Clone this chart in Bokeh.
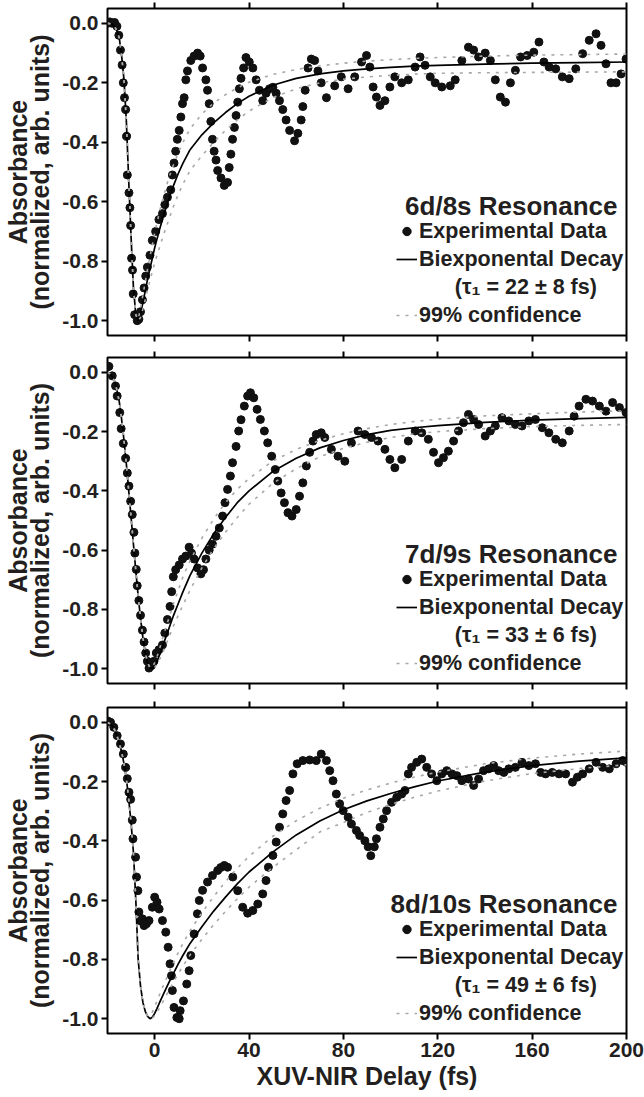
from bokeh.plotting import figure
from bokeh.layouts import column
from bokeh.models import (Range1d, LinearAxis, FixedTicker, PrintfTickFormatter,
                          Legend, LegendItem, Label)
from bokeh.embed import file_html
from bokeh.resources import INLINE

# ---------------- data ----------------
x_ticks = [0, 40, 80, 120, 160, 200]
y_ticks = [-1.0, -0.8, -0.6, -0.4, -0.2, 0.0]

titles = ["6d/8s Resonance", "7d/9s Resonance", "8d/10s Resonance"]
tau_labels = ["(\u03c4\u2081 = 22 \u00b1 8 fs)", "(\u03c4\u2081 = 33 \u00b1 6 fs)", "(\u03c4\u2081 = 49 \u00b1 6 fs)"]

# panel 1: 6d/8s experimental data
x1 = [-20, -19, -18, -17, -16, -15.2, -14.5, -13.8, -13.3, -12.8, -12.3, -11.9, -11.6, -10.9, -10.5,
      -10.2, -9.8, -9.4, -9.1, -8.5, -7.4, -6.7, -6.0, -5.2, -4.5, -3.8, -3.1, -2.0, -1.0, 0.4,
      1.8, 3.3, 4.3, 5.4, 6.8, 7.5, 8.2, 8.9, 9.6, 10.4, 11.1, 11.8, 12.5, 13.2, 13.9,
      15.3, 16.7, 18.2, 19.3, 20.3, 21.7, 22.4, 23.1, 23.8, 24.5, 25.2, 26.0, 26.7, 28.1, 29.5,
      30.9, 31.6, 32.3, 33.0, 33.8, 34.5, 35.2, 35.9, 36.6, 37.7, 38.7, 40.1, 41.6, 43.0, 44.4,
      45.8, 47.2, 48.7, 50.1, 51.5, 52.9, 54.3, 55.7, 57.2, 59.3, 60.7, 62.1, 62.8, 63.8, 65.0,
      66.4, 67.8, 69.2, 70.6, 72.8, 76.3, 79.1, 82.0, 84.8, 87.7, 89.8, 91.2, 92.6, 94.0, 95.5,
      97.6, 99.7, 101.8, 104.7, 107.5, 110.4, 112.5, 114.6, 116.8, 118.9, 121.7, 125.3, 127.4, 130.2, 133.0,
      135.2, 137.3, 140.1, 142.3, 144.4, 146.5, 148.7, 150.8, 152.9, 155.1, 157.9, 160.7, 162.9, 165.0, 167.2,
      170.0, 172.8, 175.7, 178.5, 181.4, 184.2, 187.1, 189.2, 191.3, 193.4, 195.6, 197.7, 199.8]
y1 = [0.0, 0.005, 0.0, 0.003, -0.01, -0.04, -0.09, -0.14, -0.2, -0.25, -0.29, -0.38, -0.51, -0.57, -0.62,
      -0.68, -0.79, -0.83, -0.91, -0.98, -1.0, -0.995, -0.97, -0.93, -0.89, -0.85, -0.82, -0.78, -0.73, -0.70,
      -0.66, -0.64, -0.61, -0.585, -0.56, -0.51, -0.47, -0.43, -0.39, -0.36, -0.315, -0.27, -0.25, -0.19, -0.16,
      -0.125, -0.11, -0.1, -0.11, -0.15, -0.19, -0.225, -0.27, -0.33, -0.39, -0.43, -0.46, -0.495, -0.52, -0.545,
      -0.535, -0.485, -0.44, -0.39, -0.35, -0.31, -0.265, -0.22, -0.185, -0.15, -0.115, -0.13, -0.15, -0.19, -0.225,
      -0.26, -0.235, -0.22, -0.215, -0.235, -0.26, -0.29, -0.325, -0.36, -0.395, -0.37, -0.325, -0.28, -0.225, -0.15,
      -0.12, -0.125, -0.16, -0.2, -0.25, -0.21, -0.18, -0.22, -0.18, -0.13, -0.108, -0.147, -0.214, -0.248, -0.276,
      -0.26, -0.214, -0.18, -0.2, -0.19, -0.147, -0.113, -0.141, -0.18, -0.2, -0.214, -0.21, -0.19, -0.125, -0.08,
      -0.09, -0.113, -0.1, -0.125, -0.19, -0.248, -0.265, -0.2, -0.158, -0.113, -0.108, -0.097, -0.063, -0.13, -0.147,
      -0.153, -0.18, -0.186, -0.153, -0.102, -0.057, -0.035, -0.074, -0.136, -0.2, -0.2, -0.17, -0.12]

# panel 2: 7d/9s experimental data
x2 = [-20, -19.4, -18, -16.6, -15.9, -14.8, -14.2, -13.3, -12.3, -11.6, -10.9, -10.2, -9.5, -8.8, -8.4,
      -7.8, -7.4, -6.7, -6.0, -5.2, -4.5, -3.8, -3.1, -2.4, -1.4, -0.3, 0.7, 1.8, 3.3, 4.3,
      5.4, 6.5, 7.2, 7.9, 8.9, 10.4, 11.8, 13.2, 14.6, 15.6, 16.7, 18.2, 19.6, 20.7, 21.7,
      23.1, 24.5, 26.0, 27.4, 28.8, 29.8, 30.9, 32.1, 33.0, 34.5, 35.6, 36.6, 38.0, 39.4, 40.6,
      42.0, 43.4, 44.8, 46.5, 47.9, 49.6, 51.1, 52.2, 53.6, 55.0, 56.5, 58.2, 60.0, 61.4, 62.8,
      64.3, 65.7, 67.1, 68.5, 70.6, 72.1, 74.9, 77.7, 80.6, 83.4, 86.2, 89.1, 91.9, 94.7, 97.6,
      99.7, 101.8, 104.7, 107.5, 110.4, 113.2, 116.0, 118.2, 120.3, 122.4, 124.5, 126.7, 128.8, 130.9, 133.0,
      135.2, 137.3, 140.1, 142.3, 144.4, 147.2, 150.1, 152.9, 155.7, 158.6, 161.4, 164.3, 167.1, 170.0, 172.8,
      175.7, 177.8, 179.9, 182.8, 185.6, 188.5, 191.3, 194.1, 197.0, 199.8]
y2 = [0.02, 0.02, -0.012, -0.046, -0.08, -0.136, -0.19, -0.24, -0.29, -0.34, -0.384, -0.435, -0.48, -0.54, -0.61,
      -0.665, -0.72, -0.77, -0.82, -0.87, -0.91, -0.947, -0.975, -0.998, -0.99, -0.975, -0.947, -0.936, -0.92, -0.88,
      -0.834, -0.79, -0.74, -0.69, -0.666, -0.65, -0.63, -0.62, -0.59, -0.61, -0.63, -0.66, -0.68, -0.666, -0.63,
      -0.60, -0.58, -0.553, -0.525, -0.485, -0.44, -0.395, -0.35, -0.305, -0.25, -0.198, -0.16, -0.114, -0.08, -0.069,
      -0.086, -0.125, -0.159, -0.198, -0.238, -0.283, -0.328, -0.367, -0.407, -0.44, -0.474, -0.485, -0.463, -0.418, -0.373,
      -0.316, -0.27, -0.232, -0.21, -0.204, -0.22, -0.26, -0.283, -0.3, -0.238, -0.198, -0.21, -0.22, -0.232, -0.26,
      -0.294, -0.322, -0.294, -0.232, -0.198, -0.204, -0.226, -0.27, -0.305, -0.288, -0.266, -0.232, -0.198, -0.17, -0.142,
      -0.159, -0.176, -0.215, -0.198, -0.181, -0.153, -0.164, -0.176, -0.181, -0.164, -0.159, -0.187, -0.204, -0.226, -0.238,
      -0.198, -0.148, -0.114, -0.091, -0.097, -0.114, -0.131, -0.102, -0.119, -0.136]

# panel 3: 8d/10s experimental data
x3 = [-20, -18.7, -17.3, -15.9, -14.5, -13.3, -12.3, -11.6, -10.9, -10.2, -9.5, -9.2, -8.1, -7.7, -7.1,
      -6.7, -5.9, -5.2, -4.5, -3.5, -2.4, -1.0, 0.0, 1.0, 1.9, 3.3, 4.7, 5.7, 6.5, 7.1,
      7.5, 8.2, 9.4, 10.4, 10.8, 12.2, 13.6, 14.6, 15.3, 16.7, 18.1, 18.9, 20.3, 22.4, 24.5,
      26.7, 28.0, 29.5, 30.9, 33.1, 35.2, 37.3, 39.4, 41.6, 43.7, 45.8, 47.2, 48.2, 50.1, 51.5,
      52.9, 54.3, 55.7, 57.2, 58.6, 60.4, 62.8, 65.7, 68.5, 70.6, 72.8, 74.2, 75.6, 77.0, 78.4,
      79.9, 82.0, 83.4, 85.5, 86.9, 89.1, 90.5, 91.6, 93.1, 94.0, 95.5, 96.9, 98.3, 100.4, 102.6,
      104.7, 106.1, 107.5, 108.9, 111.1, 113.2, 115.3, 117.4, 119.6, 121.7, 123.8, 126.0, 128.1, 130.2, 133.0,
      135.2, 137.3, 139.4, 141.6, 143.7, 145.8, 148.0, 150.1, 152.9, 155.7, 158.6, 161.4, 163.6, 165.7, 168.5,
      171.4, 174.2, 177.1, 179.2, 181.4, 184.2, 187.1, 189.9, 192.7, 195.6, 198.4, 200.0]
y3 = [0.005, 0.0, -0.017, -0.045, -0.073, -0.107, -0.152, -0.19, -0.236, -0.26, -0.33, -0.393, -0.455, -0.522, -0.568,
      -0.64, -0.67, -0.663, -0.686, -0.68, -0.669, -0.624, -0.59, -0.607, -0.63, -0.669, -0.708, -0.759, -0.815, -0.855,
      -0.905, -0.962, -0.996, -1.0, -0.973, -0.94, -0.883, -0.838, -0.787, -0.714, -0.646, -0.601, -0.567, -0.539, -0.517,
      -0.5, -0.49, -0.483, -0.489, -0.522, -0.568, -0.624, -0.644, -0.635, -0.613, -0.579, -0.534, -0.489, -0.449, -0.404,
      -0.354, -0.309, -0.264, -0.23, -0.174, -0.14, -0.129, -0.127, -0.129, -0.107, -0.129, -0.163, -0.197, -0.242, -0.275,
      -0.298, -0.32, -0.343, -0.365, -0.382, -0.4, -0.42, -0.45, -0.42, -0.393, -0.354, -0.326, -0.298, -0.27, -0.253,
      -0.242, -0.23, -0.174, -0.152, -0.135, -0.124, -0.152, -0.174, -0.197, -0.174, -0.163, -0.174, -0.18, -0.197, -0.191,
      -0.213, -0.191, -0.163, -0.157, -0.146, -0.163, -0.169, -0.157, -0.152, -0.135, -0.146, -0.14, -0.169, -0.174, -0.169,
      -0.174, -0.174, -0.202, -0.185, -0.174, -0.157, -0.135, -0.152, -0.157, -0.14, -0.129, -0.135]

# biexponential fits and 99% confidence bounds
fit_x = [-20, -19, -18, -17, -16, -15, -14, -13, -12, -11, -10, -9, -8, -7, -6, -5, -4, -3, -2, -1, 0, 1, 2,
         4, 6, 8, 10, 12, 15, 20, 25, 30, 35, 40, 50, 60, 70, 80, 90, 100, 110, 120, 140, 160, 180, 200]

fit1 = [0.0, -0.001, -0.003, -0.01, -0.025, -0.05, -0.11, -0.19, -0.33, -0.53, -0.72, -0.89, -0.98, -1.0, -0.975,
        -0.94, -0.9, -0.86, -0.825, -0.79, -0.755, -0.725, -0.695,
        -0.64, -0.59, -0.545, -0.505, -0.47, -0.425, -0.375, -0.335, -0.3, -0.27, -0.245,
        -0.208, -0.185, -0.17, -0.16, -0.153, -0.148, -0.144, -0.141, -0.137, -0.134, -0.132, -0.13]
up1 = [0.0, -0.001, -0.003, -0.01, -0.025, -0.05, -0.11, -0.19, -0.33, -0.53, -0.72, -0.89, -0.98, -0.995, -0.96,
       -0.915, -0.87, -0.825, -0.785, -0.745, -0.705, -0.67, -0.635,
       -0.575, -0.52, -0.475, -0.435, -0.4, -0.355, -0.305, -0.268, -0.24, -0.217, -0.198,
       -0.172, -0.155, -0.143, -0.134, -0.127, -0.122, -0.118, -0.115, -0.11, -0.107, -0.105, -0.103]
lo1 = [0.0, -0.001, -0.003, -0.01, -0.025, -0.05, -0.11, -0.19, -0.33, -0.53, -0.72, -0.89, -0.98, -1.0, -0.99,
       -0.96, -0.93, -0.895, -0.865, -0.835, -0.805, -0.78, -0.755,
       -0.705, -0.66, -0.615, -0.575, -0.54, -0.495, -0.445, -0.4, -0.36, -0.325, -0.295,
       -0.25, -0.22, -0.2, -0.188, -0.18, -0.175, -0.171, -0.168, -0.166, -0.165, -0.164, -0.163]

fit2 = [0.0, -0.005, -0.015, -0.03, -0.06, -0.1, -0.16, -0.23, -0.31, -0.4, -0.49, -0.58, -0.67, -0.755, -0.83,
        -0.895, -0.945, -0.98, -0.997, -1.0, -0.99, -0.975, -0.955,
        -0.91, -0.865, -0.82, -0.78, -0.74, -0.685, -0.61, -0.545, -0.49, -0.44, -0.4,
        -0.335, -0.29, -0.255, -0.23, -0.21, -0.196, -0.187, -0.18, -0.169, -0.161, -0.156, -0.152]
up2 = [0.0, -0.005, -0.015, -0.03, -0.06, -0.1, -0.16, -0.23, -0.31, -0.4, -0.49, -0.58, -0.67, -0.755, -0.83,
       -0.895, -0.945, -0.98, -0.997, -0.995, -0.98, -0.96, -0.935,
       -0.88, -0.83, -0.78, -0.735, -0.69, -0.635, -0.56, -0.495, -0.44, -0.395, -0.358,
       -0.3, -0.26, -0.23, -0.207, -0.19, -0.176, -0.166, -0.158, -0.147, -0.14, -0.134, -0.13]
lo2 = [0.0, -0.005, -0.015, -0.03, -0.06, -0.1, -0.16, -0.23, -0.31, -0.4, -0.49, -0.58, -0.67, -0.755, -0.83,
       -0.895, -0.945, -0.98, -0.997, -1.0, -0.995, -0.985, -0.97,
       -0.935, -0.895, -0.855, -0.82, -0.785, -0.735, -0.66, -0.595, -0.54, -0.49, -0.445,
       -0.375, -0.325, -0.285, -0.256, -0.236, -0.22, -0.208, -0.2, -0.19, -0.183, -0.179, -0.176]

fit3 = [0.0, -0.005, -0.012, -0.025, -0.045, -0.07, -0.1, -0.14, -0.19, -0.26, -0.34, -0.44, -0.6, -0.8, -0.89,
        -0.945, -0.975, -0.992, -1.0, -0.995, -0.982, -0.965, -0.947,
        -0.912, -0.878, -0.846, -0.815, -0.786, -0.746, -0.69, -0.637, -0.59, -0.545, -0.505,
        -0.438, -0.38, -0.333, -0.295, -0.265, -0.24, -0.218, -0.198, -0.168, -0.146, -0.131, -0.12]
up3 = [0.0, -0.005, -0.012, -0.025, -0.045, -0.07, -0.1, -0.14, -0.19, -0.26, -0.34, -0.44, -0.6, -0.8, -0.89,
       -0.945, -0.975, -0.992, -0.99, -0.978, -0.96, -0.94, -0.92,
       -0.882, -0.845, -0.81, -0.777, -0.746, -0.703, -0.643, -0.588, -0.538, -0.492, -0.452,
       -0.385, -0.332, -0.29, -0.256, -0.228, -0.205, -0.185, -0.168, -0.14, -0.121, -0.107, -0.097]
lo3 = [0.0, -0.005, -0.012, -0.025, -0.045, -0.07, -0.1, -0.14, -0.19, -0.26, -0.34, -0.44, -0.6, -0.8, -0.89,
       -0.945, -0.975, -0.992, -1.0, -0.998, -0.99, -0.978, -0.965,
       -0.935, -0.905, -0.876, -0.848, -0.822, -0.785, -0.732, -0.683, -0.638, -0.596, -0.556,
       -0.49, -0.43, -0.37, -0.338, -0.304, -0.277, -0.253, -0.232, -0.198, -0.173, -0.156, -0.143]

# ---------------- styling ----------------
FONT = "Liberation Sans"
INK = "#231f20"
BAND = "#a8a8a8"

panel_data = [(x1, y1, fit1, up1, lo1), (x2, y2, fit2, up2, lo2), (x3, y3, fit3, up3, lo3)]
heights = [346, 349, 402]
tops = [8, 11, 12]
bottoms = [11, 12, 64]


def tick_style(ax, show_labels, ticks, fmt):
    ax.ticker = FixedTicker(ticks=ticks)
    ax.formatter = PrintfTickFormatter(format=fmt)
    ax.axis_line_color = None
    ax.major_tick_line_color = "black"
    ax.major_tick_line_width = 2
    ax.major_tick_out = 6
    ax.major_tick_in = 0
    ax.minor_tick_out = 0
    ax.minor_tick_in = 0
    ax.major_label_text_font = FONT
    ax.major_label_text_font_style = "bold"
    if show_labels:
        ax.major_label_text_color = INK
        ax.major_label_text_font_size = "21px"
        ax.major_label_standoff = 3
    else:
        ax.major_label_text_color = None
        ax.major_label_text_font_size = "1px"
        ax.major_label_standoff = 0


figs = []
for i, (xs, ys, fit, up, lo) in enumerate(panel_data):
    last = (i == 2)
    p = figure(width=644, height=heights[i], x_range=Range1d(-20, 200), y_range=Range1d(-1.05, 0.05),
               output_backend="svg", toolbar_location=None,
               min_border_left=107, min_border_right=18,
               min_border_top=tops[i], min_border_bottom=bottoms[i])
    p.grid.visible = False
    p.background_fill_color = "white"
    p.border_fill_color = "white"
    p.outline_line_color = "black"
    p.outline_line_width = 2
    p.outline_line_alpha = 1.0

    bottom_ax = p.below[0]
    left_ax = p.left[0]
    tick_style(bottom_ax, last, x_ticks, "%d")
    tick_style(left_ax, True, y_ticks, "%.1f")
    top_ax = LinearAxis()
    tick_style(top_ax, False, x_ticks, "%d")
    p.add_layout(top_ax, "above")

    left_ax.axis_label = "Absorbance\n(normalized, arb. units)"
    left_ax.axis_label_text_font = FONT
    left_ax.axis_label_text_font_style = "bold"
    left_ax.axis_label_text_font_size = "25px"
    left_ax.axis_label_text_color = INK
    left_ax.axis_label_text_line_height = 0.78
    left_ax.axis_label_standoff = 5
    if last:
        bottom_ax.axis_label = "XUV-NIR Delay (fs)"
        bottom_ax.axis_label_text_font = FONT
        bottom_ax.axis_label_text_font_style = "bold"
        bottom_ax.axis_label_text_font_size = "25px"
        bottom_ax.axis_label_text_color = INK
        bottom_ax.axis_label_standoff = 2

    # data
    r_dots = p.scatter(xs, ys, size=8, fill_color="#111111", line_color="#111111")
    r_fit = p.line(fit_x, fit, line_color="black", line_width=1.7)
    r_up = p.line(fit_x, up, line_color=BAND, line_width=1.6, line_dash="3 6")
    p.line(fit_x, lo, line_color=BAND, line_width=1.6, line_dash="3 6")
    r_tau = p.line([], [], line_alpha=0)   # text-only legend row

    nb = "\u00a0" * 6
    legend = Legend(items=[LegendItem(label="Experimental Data", renderers=[r_dots]),
                           LegendItem(label="Biexponental Decay", renderers=[r_fit]),
                           LegendItem(label=nb + tau_labels[i], renderers=[r_tau]),
                           LegendItem(label="99% confidence", renderers=[r_up])],
                    location=(289, 6), orientation="vertical",
                    padding=0, margin=0, spacing=0,
                    glyph_width=21, glyph_height=28, label_height=28, label_standoff=2,
                    border_line_color=None, background_fill_alpha=0,
                    label_text_font=FONT, label_text_font_style="bold",
                    label_text_font_size="21.5px", label_text_color=INK)
    p.add_layout(legend)

    p.add_layout(Label(x=510, y=130, x_units="screen", y_units="screen", text=titles[i],
                       text_align="right", text_baseline="alphabetic",
                       text_font=FONT, text_font_style="bold", text_font_size="26px",
                       text_color=INK))
    figs.append(p)

layout = column(*figs, spacing=0)
open("out.html", "w").write(file_html(layout, INLINE))
